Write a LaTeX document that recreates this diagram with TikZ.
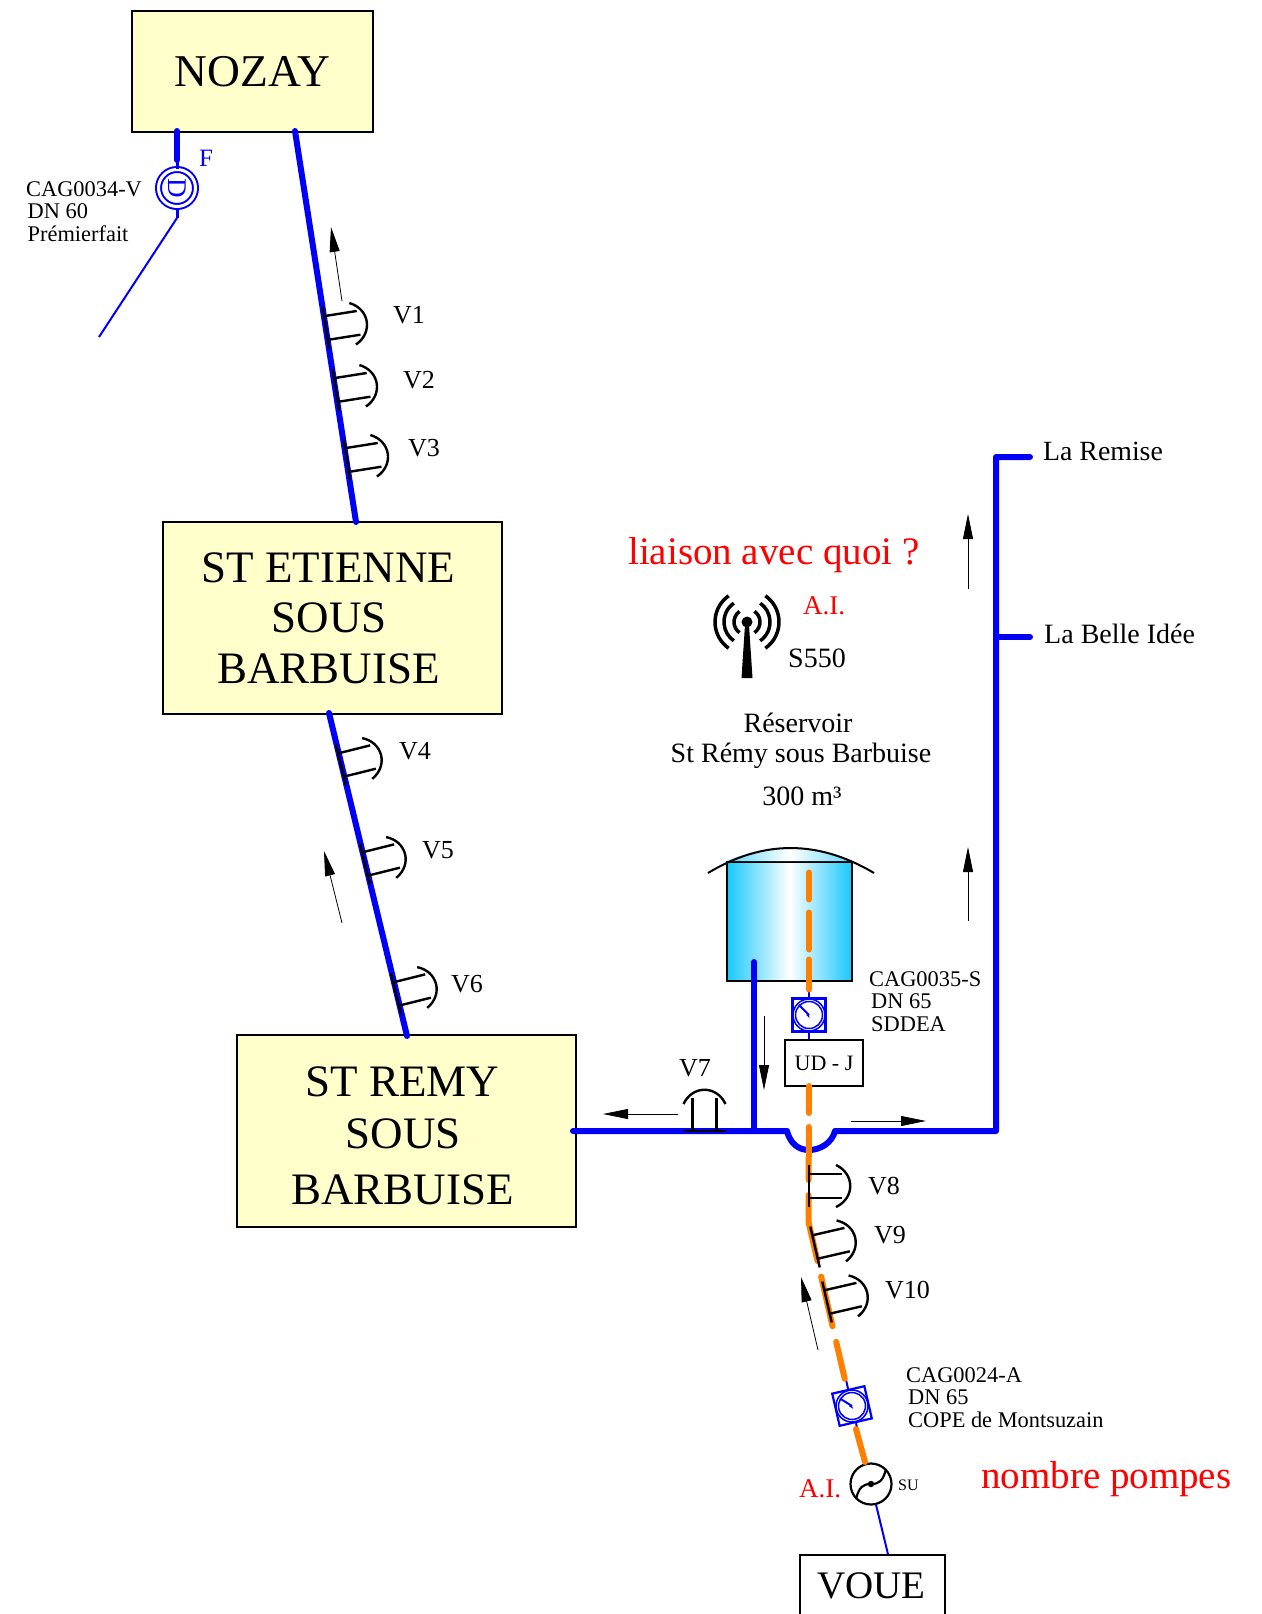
\documentclass[tikz,border=0pt]{standalone}
\usepackage{fontspec}
\setmainfont{Liberation Serif}
\usetikzlibrary{arrows.meta}
\definecolor{jaune}{RGB}{255,255,204}
\definecolor{eau}{RGB}{24,200,250}
\definecolor{conduite}{RGB}{0,0,250}
\definecolor{orangepipe}{RGB}{255,128,0}
\tikzset{
    commune/.style={draw,line width=1.5pt,fill=jaune,inner sep=0pt,align=center,font=\fontsize{45}{50}\selectfont},
    txt/.style={anchor=base west,inner sep=0pt,font=\fontsize{22.4}{22.5}\selectfont,align=left},
    vlabel/.style={anchor=base west,inner sep=0pt,font=\fontsize{26}{28}\selectfont},
    rouge/.style={anchor=base west,inner sep=0pt,text=red},
    pipe/.style={conduite,line width=6pt,line cap=round,line join=round},
    thinpipe/.style={conduite,line width=2pt},
    orangedash/.style={orangepipe,line width=6pt,line cap=round},
    flow/.style={-{Triangle[length=25pt,width=10pt]},line width=0.8pt},
    mesure/.style={draw=conduite,line width=2.2pt,minimum size=33pt,inner sep=0pt},
    vanne/.pic={
        \draw[line width=2.4pt] (0,-21) -- (0,21);
        \draw[line width=2.4pt] (0,-12) -- (33,-12) (0,12) -- (33,12);
        \draw[line width=2.4pt] (27,-21) .. controls (46,-12) and (46,12) .. (27,21);
    },
    cadran/.pic={
        \draw[conduite,line width=1.5pt] (0,0) circle[radius=16] (0,0) circle[radius=13.5];
        \draw[conduite,line width=2pt] (0,0) -- (-10,-10);
        \fill[conduite] (0,0) -- (-3,-0.5) -- (0.5,3) -- cycle;
    },
}
\begin{document}
\begin{tikzpicture}[x=1pt,y=-1pt]
\useasboundingbox (0,0) rectangle (1261,1614);
% communes
\node [commune,minimum width=241pt,minimum height=121pt,font=\fontsize{45.5}{50}\selectfont] (nozay) at (252.5,71.5) {NOZAY};
\node [commune,minimum width=339pt,minimum height=192pt] (etienne) at (332.5,618) {ST ETIENNE\hspace*{8pt}\\\mbox{SOUS\hspace{6pt}}\\[1pt]BARBUISE\hspace*{8pt}};
\node [commune,minimum width=339pt,minimum height=192pt] (remy) at (406.5,1131) {\rule{0pt}{40pt}ST REMY\hspace*{8pt}\\[2pt]\mbox{SOUS\hspace{6pt}}\\[6pt]BARBUISE\hspace*{8pt}};
\node [draw,line width=1.5pt,inner sep=0pt,minimum width=145pt,minimum height=61pt,font=\fontsize{39}{44}\selectfont] (voue) at (872.5,1585.5) {VOUE\hspace*{2pt}};
% points des conduites
\coordinate (nozayA) at (177,131);
\coordinate (nozayB) at (295,131);
\coordinate (etienneN) at (356,522);
\coordinate (etienneS) at (329,713);
\coordinate (remyN) at (407,1036);
\coordinate (remyE) at (573,1131);
\coordinate (premier) at (99,337);
\coordinate (teA) at (754,1131);
\coordinate (teB) at (996,1131);
\coordinate (remise) at (1030,457);
\coordinate (belle) at (1030,637);
\coordinate (coudeR) at (996,457);
\coordinate (belleT) at (996,637);
\coordinate (arriveeB) at (754,962);
\coordinate (dipA) at (787,1131);
\coordinate (dipB) at (835,1131);
\coordinate (tankP) at (809,872.5);
\coordinate (udP) at (809,1086);
\coordinate (coudeO) at (808.5,1222);
% reservoir
\node [draw,line width=1.8pt,inner sep=0pt,minimum width=125pt,minimum height=119pt,left color=eau,right color=eau,middle color=white] (tank) at (789.5,921.5) {};
\shade [left color=eau!70,right color=eau!70,middle color=white] (tank.north west) .. controls (770,843.3) and (811,843.3) .. (tank.north east) -- cycle;
\draw [line width=2pt] (708,873) .. controls (763,839.7) and (818,839.7) .. (874,873);
% conduites bleues
\draw [pipe] (nozayB) -- (etienneN);
\draw [pipe] (etienneS) -- (remyN);
\draw [pipe] (remyE) -- (dipA) .. controls (790,1143) and (798,1150) .. (809,1150) .. controls (820,1150) and (832,1143) .. (dipB) -- (teB) -- (coudeR) -- (remise);
\draw [pipe] (belleT) -- (belle);
\draw [pipe] (teA) -- (arriveeB);
% compteur F
\node [circle,draw=conduite,line width=2pt,double=white,double distance=3pt,minimum size=37pt,inner sep=0pt,text=conduite,font=\fontsize{27}{27}\selectfont] (metF) at (177,188) {\rotatebox{-90}{D}};
\draw [pipe] (nozayA) -- ++(0,29);
\draw [conduite,line width=3pt] (nozayA) -- (metF.north);
\draw [conduite,line width=3pt] (metF.south) -- (177,218) coordinate (metFb);
\draw [thinpipe] (metFb) -- (premier);
% compteurs
\node [mesure] (metS) at (809,1015) {};
\pic at (metS) {cadran};
\node [mesure,rotate=13] (metA) at (852,1406) {};
\pic [rotate=13] at (metA) {cadran};
\node [draw,line width=1.8pt,minimum width=78pt,minimum height=46pt,inner sep=0pt,font=\fontsize{22}{23}\selectfont] (ud) at (824,1063) {UD - J};
\draw [conduite,line width=2pt] (metS.north) -- ++(0,-9);
\draw [conduite,line width=2pt] (metS.south) -- (metS.south |- ud.north);
\draw [conduite,line width=2pt] (metA.north) -- ++(-2,-9);
\draw [conduite,line width=2pt] (metA.south) -- ++(2,8);
% pompe
\node [circle,draw,line width=2.2pt,minimum size=41pt,inner sep=0pt] (pompe) at (871,1484) {};
\draw [line width=2.2pt] (856,1499) .. controls (859,1487) and (863,1484) .. (871,1484) .. controls (879,1484) and (883,1481) .. (886,1469);
\fill (pompe) circle[radius=3.2];
\draw [thinpipe] (pompe.south) ++(5,-1) -- (voue.north -| 888,0);
% conduites orange
\draw [orangedash,dash pattern=on 27pt off 13pt on 37pt off 10pt on 30pt off 100pt] (tankP) -- (metS.north);
\draw [orangedash,dash pattern=on 27pt off 14pt on 53pt off 15pt on 67pt off 16pt on 51pt off 16pt on 38pt off 100pt] (udP) -- (coudeO) -- (845,1380);
\draw [orangedash] (856,1429) -- (865,1462);
% vannes
\foreach \name/\px/\py/\rot/\lx/\ly in {V1/326/328/9/393/323,V2/336/390/9/403/388,V3/347/460/9/408/456,V4/341/765/14/399/759,V5/365/864/14/422/858,V6/396/994/14/451/992,V7/704.5/1131/90/679/1076,V8/809/1186/0/868/1194,V9/815/1247/13/874/1243,V10/827/1302/13/885/1298}{
    \pic [rotate=\rot] at (\px,\py) {vanne};
    \node [vlabel] (lbl\name) at (\lx,\ly) {\name};
}
% sens d'ecoulement
\foreach \i/\xa/\ya/\xb/\yb in {1/342/301/331/227,2/342/923/324/851,3/678/1114/603/1114,4/851/1121/926/1121,5/764/1016/764/1090,6/968/921/968/847,7/968/589/968/514,8/818/1350/801/1277}{
    \coordinate (sensA\i) at (\xa,\ya);
    \coordinate (sensB\i) at (\xb,\yb);
    \draw [flow] (sensA\i) -- (sensB\i);
}
% antenne
\coordinate (ant) at (747,622);
\fill (ant) circle[radius=5.5];
\fill (745,625) -- (749,625) -- (752.5,678) -- (741.5,678) -- cycle;
\foreach \r in {13,23,32}{
    \draw [line width=3.5pt] (ant) ++(125:\r pt) arc[start angle=125,end angle=235,radius=\r pt];
    \draw [line width=3.5pt] (ant) ++(-55:\r pt) arc[start angle=-55,end angle=55,radius=\r pt];
}
% textes
\node [txt] (cagV) at (26,241) {CAG0034-V\\\hspace*{1.5pt}DN 60\\\hspace*{1.5pt}Prémierfait};
\node [txt] (cagS) at (869,1031) {CAG0035-S\\\hspace*{2pt}DN 65\\\hspace*{2pt}SDDEA};
\node [txt] (cagA) at (906,1427) {CAG0024-A\\\hspace*{2pt}DN 65\\\hspace*{2pt}COPE de Montsuzain};
\node [anchor=base west,inner sep=0pt,text=conduite,font=\fontsize{25}{25}\selectfont] (lblF) at (199,166) {F};
\node [anchor=base west,inner sep=0pt,font=\fontsize{16}{16}\selectfont] (lblSU) at (898,1490) {SU};
\node [rouge,font=\fontsize{27}{27}\selectfont] (aiA) at (799,1497) {A.I.};
\node [rouge,font=\fontsize{27}{27}\selectfont] (aiB) at (803,614) {A.I.};
\node [rouge,font=\fontsize{39}{39}\selectfont] (nombre) at (981,1488) {nombre pompes};
\node [rouge,font=\fontsize{39}{39}\selectfont] (liaison) at (628,564) {liaison avec quoi ?};
\node [vlabel,font=\fontsize{28}{28}\selectfont] (s550) at (788,667) {S550};
\node [anchor=base,inner sep=0pt,font=\fontsize{28}{31}\selectfont] (resA) at (798,732) {Réservoir};
\node [anchor=base,inner sep=0pt,font=\fontsize{28}{31}\selectfont] (resB) at (801,762) {St Rémy sous Barbuise};
\node [anchor=base,inner sep=0pt,font=\fontsize{28}{31}\selectfont] (resC) at (802,805) {300 m³};
\node [vlabel,font=\fontsize{27.8}{31}\selectfont] (lblRemise) at (1043,460) {La Remise};
\node [vlabel,font=\fontsize{28}{31}\selectfont] (lblBelle) at (1044,643) {La Belle Idée};
\end{tikzpicture}
\end{document}
